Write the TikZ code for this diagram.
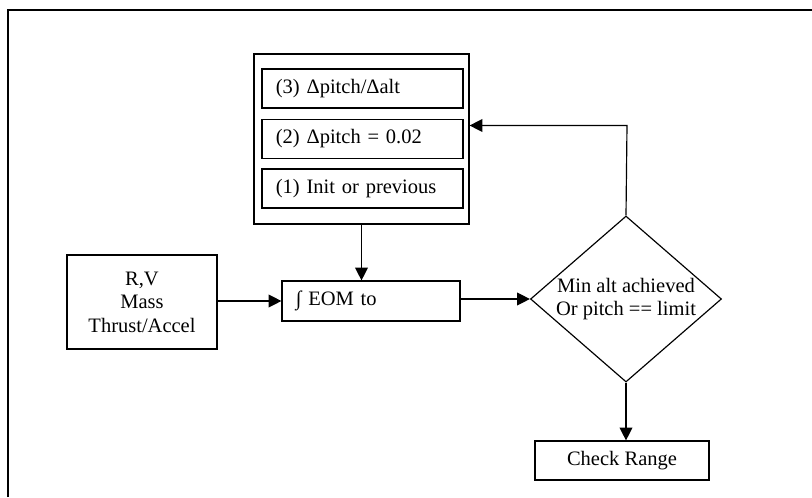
\documentclass[tikz,border=0pt]{standalone}
\usepackage{fontspec}
\setmainfont{Liberation Serif}
\usetikzlibrary{arrows.meta, shapes.geometric}
\tikzset{
    block/.style={draw, line width=1pt, align=center, inner sep=0pt},
    stepbox/.style={block, minimum width=6.03cm, minimum height=1.17cm, text width=5.2cm, align=left},
    decision/.style={diamond, draw, line width=1pt, minimum width=5.73cm, minimum height=4.98cm, inner sep=0pt},
    flow/.style={->, line width=1pt}
}

\begin{document}
\begin{tikzpicture}[x=0.03cm, y=-0.03cm, >={Triangle[length=11pt, width=11pt]},
    font=\fontsize{17.5}{20}\selectfont]
        \useasboundingbox (0,0) rectangle (812,497);
        % Rahmen (rechts und unten abgeschnitten)
        \draw[line width=1.6pt] (8,497) -- (8,10) -- (812,10);

        % Schleife oben
        \node[block, minimum width=6.45cm, minimum height=5.1cm] (loop) at (361.5,139) {};
        \node[stepbox] (ratio) at (362.5,88.5) {(3) Δpitch/Δalt};
        \node[stepbox] (delta) at (362.5,138.8) {(2) Δpitch = 0.02};
        \node[stepbox] (init) at (362.5,188.5) {(1) Init or previous};

        % Mittlere Reihe
        \node[block, minimum width=4.5cm, minimum height=2.82cm] (state) at (142,302) {R,V\\Mass\\Thrust/Accel};
        \node[block, minimum width=5.34cm, minimum height=1.2cm, text width=4.51cm, align=left] (eom) at (371,301) {∫ EOM to};
        \node[decision] (check) at (626,299) {};
        \node[align=center] (cond) at (check) {Min alt achieved\\Or pitch == limit};
        \coordinate (back) at (627,125.5);

        % Unten
        \node[block, minimum width=5.22cm, minimum height=1.17cm] (range) at (622,460.5) {Check Range};

        % Verbindungen
        \draw[flow] (state.east |- eom.west) -- (eom.west);
        \draw[flow] (loop.south) -- (loop.south |- eom.north);
        \draw[flow] (eom.east |- check.west) -- (check.west);
        \draw[flow] (check.north) -- (back) -- (loop.east |- back);
        \draw[flow] (check.south) -- (check.south |- range.north);
    \end{tikzpicture}
\end{document}
